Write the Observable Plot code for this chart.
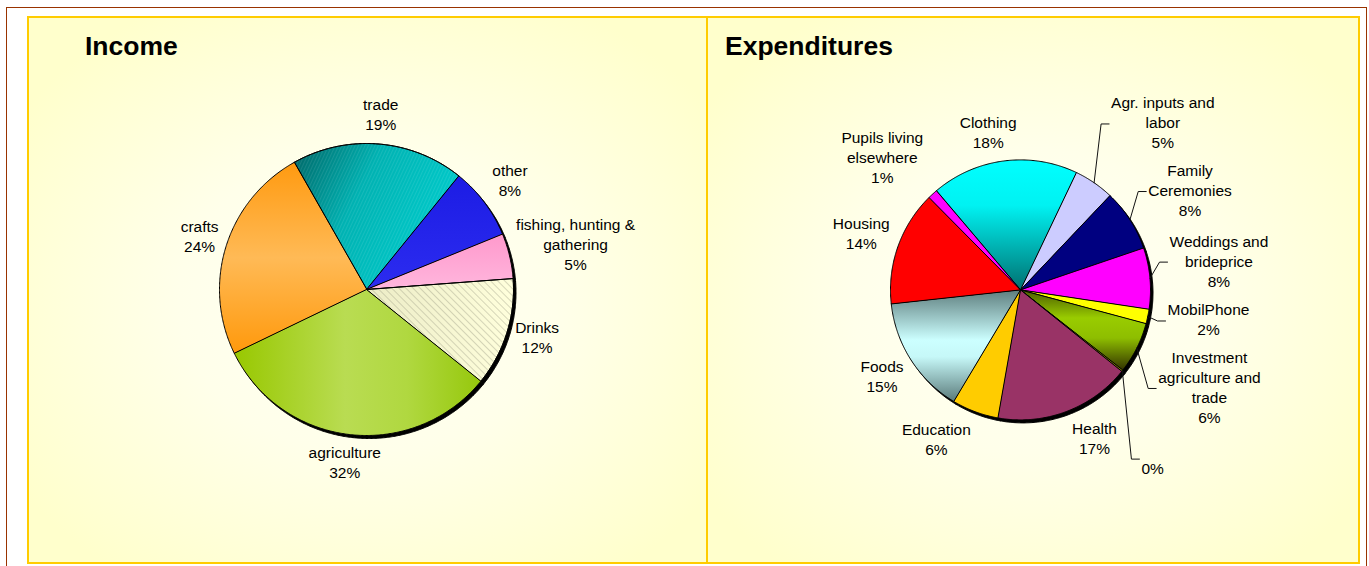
<!DOCTYPE html>
<html>
<head>
<meta charset="utf-8">
<script src="https://cdn.jsdelivr.net/npm/d3@7"></script>
<script src="https://cdn.jsdelivr.net/npm/@observablehq/plot@0.6"></script>
<style>
  html, body { margin: 0; padding: 0; background: #ffffff; overflow: hidden; }
  body { width: 1369px; height: 566px; position: relative; font-family: "Liberation Sans", Arial, sans-serif; }
  .frame { position: absolute; left: 6px; top: 7px; width: 1361px; height: 700px; border: 1.5px solid #993300; box-sizing: border-box; }
  .panel { position: absolute; top: 16px; height: 548px; box-sizing: border-box; border: 2px solid #FFCC00;
           background: radial-gradient(ellipse 62% 62% at 50% 52%, #FFFFF6 0%, #FFFFEA 45%, #FFFFCC 100%); }
  #pIncome { left: 27px; width: 681px; }
  #pExp { left: 706px; width: 654px; }
  .title { position: absolute; top: 31px; font-size: 26.5px; font-weight: bold; line-height: 30px; color: #000; white-space: nowrap; }
  .chart { position: absolute; top: 16px; }
  .chart svg { overflow: visible; }
</style>
</head>
<body>
<div class="frame"></div>
<div class="panel" id="pIncome"></div>
<div class="panel" id="pExp"></div>
<div class="title" style="left:85px">Income</div>
<div class="title" style="left:725px">Expenditures</div>
<div class="chart" id="cIncome" style="left:27px"></div>
<div class="chart" id="cExp" style="left:707px"></div>
<script>
// ---------- data ----------
const incomeCategories = ["trade", "other", "fishing, hunting &\ngathering", "Drinks", "agriculture", "crafts"];
const incomeValues = [19, 8, 5, 12, 32, 24];

const expenditureCategories = ["Clothing", "Agr. inputs and\nlabor", "Family\nCeremonies", "Weddings and\nbrideprice",
  "MobilPhone", "Investment\nagriculture and\ntrade", "", "Health", "Education", "Foods", "Housing", "Pupils living\nelsewhere"];
const expenditureValues = [18.3, 5.0, 7.7, 7.6, 1.8, 6.4, 0.2, 17.0, 5.8, 14.7, 14.3, 1.2];

// ---------- styles / layout ----------
const incomeFills = ["url(#inc-trade)", "url(#inc-other)", "url(#inc-fish)", "url(#inc-drinks)", "url(#inc-agri)", "url(#inc-crafts)"];
const expenditureFills = ["url(#exp-cloth)", "#CCCCFF", "#000080", "#FF00FF", "#FFFF00", "url(#exp-invest)", "#808000",
  "#993366", "#FFCC00", "url(#exp-foods)", "#FF0000", "#FF00FF"];

const incomeLabelPlaces = [
  {da: 0, k: 1.06},
  {da: 0, k: 1.097},
  {da: -0.5, k: 1.06},
  {da: -1, k: 1.06},
  {da: 0, k: 1.06},
  {da: 0, k: 1.06}
];
const expenditureLabelPlaces = [
  {da: -3.65, k: 1.072},
  {leader: true, angle: 28.1, k: 1.447},
  {leader: true, angle: 51.96, k: 1.228},
  {leader: true, angle: 79.3, k: 1.151},
  {leader: true, angle: 102.1, k: 1.141},
  {leader: true, angle: 126.0, k: 1.29},
  {leader: true, angle: 144.9, k: 1.591},
  {da: -5.4, k: 1.126},
  {da: 6.8, k: 1.149},
  {da: 0, k: 1.10},
  {da: 0.5, k: 1.085},
  {da: -2.2, k: 1.195}
];

const FONT_PX = 15.5, LINE_PX = 20, TEXT_DY = -2, FONT_FAMILY = '"Liberation Sans", Arial, sans-serif';

const incomeDefs = `
<defs>
 <linearGradient id="inc-trade" x1="0" y1="0" x2="1" y2="0.45">
  <stop offset="0" stop-color="#006464"/><stop offset="0.45" stop-color="#00B2B2"/><stop offset="1" stop-color="#00CCCC"/>
 </linearGradient>
 <pattern id="inc-stripe" patternUnits="userSpaceOnUse" width="3" height="3" patternTransform="rotate(25)">
  <line x1="0" y1="0" x2="0" y2="3" stroke="rgba(255,255,255,0.18)" stroke-width="1"/>
 </pattern>
 <linearGradient id="inc-other" x1="0" y1="0" x2="0" y2="1">
  <stop offset="0" stop-color="#1C1CE4"/><stop offset="1" stop-color="#2C2CF0"/>
 </linearGradient>
 <linearGradient id="inc-fish" x1="0" y1="0" x2="0" y2="1">
  <stop offset="0" stop-color="#FF99CC"/><stop offset="1" stop-color="#FFB6DD"/>
 </linearGradient>
 <linearGradient id="inc-drinks" x1="0" y1="0" x2="1" y2="0">
  <stop offset="0" stop-color="#ECECC6"/><stop offset="1" stop-color="#FFFFDC"/>
 </linearGradient>
 <pattern id="inc-hatch" patternUnits="userSpaceOnUse" width="5" height="5" patternTransform="rotate(-45)">
  <line x1="0" y1="0" x2="0" y2="5" stroke="#9A9A84" stroke-width="0.8"/>
 </pattern>
 <linearGradient id="inc-agri" x1="0" y1="0" x2="1" y2="0">
  <stop offset="0" stop-color="#98C800"/><stop offset="0.45" stop-color="#B9DC52"/><stop offset="0.7" stop-color="#B0D840"/><stop offset="1" stop-color="#96C80C"/>
 </linearGradient>
 <linearGradient id="inc-crafts" x1="0" y1="0" x2="0" y2="1">
  <stop offset="0" stop-color="#FF9A10"/><stop offset="0.5" stop-color="#FFBA56"/><stop offset="1" stop-color="#FF990C"/>
 </linearGradient>
</defs>`;

const expenditureDefs = `
<defs>
 <linearGradient id="exp-cloth" x1="0" y1="0" x2="0" y2="1">
  <stop offset="0" stop-color="#00FFFF"/><stop offset="0.35" stop-color="#00F2F2"/><stop offset="1" stop-color="#007070"/>
 </linearGradient>
 <linearGradient id="exp-invest" x1="0" y1="0" x2="0" y2="1">
  <stop offset="0" stop-color="#4A5C00"/><stop offset="0.35" stop-color="#99CC00"/><stop offset="0.6" stop-color="#8EBE00"/><stop offset="1" stop-color="#333300"/>
 </linearGradient>
 <linearGradient id="exp-foods" x1="0" y1="0" x2="0" y2="1">
  <stop offset="0" stop-color="#5E7E7E"/><stop offset="0.45" stop-color="#CCFFFF"/><stop offset="0.6" stop-color="#C6F8F8"/><stop offset="1" stop-color="#5A7A7A"/>
 </linearGradient>
</defs>`;

// ---------- helpers ----------
const ctx = document.createElement("canvas").getContext("2d");
function textWidth(str) {
  ctx.font = `${FONT_PX}px "Liberation Sans"`;
  return d3.max(str.split("\n"), l => ctx.measureText(l).width);
}
function pieLayout(cats, vals, start) {
  const total = d3.sum(vals);
  let acc = start;
  return vals.map((v, i) => {
    const a0 = acc, a1 = acc + v / total * 360;
    acc = a1;
    return {i, cat: cats[i], pct: Math.round(v / total * 100), a0, a1, mid: (a0 + a1) / 2};
  });
}
function slicePoints(s) {
  const pts = [{x: 0, y: 0}];
  const n = Math.max(2, Math.ceil((s.a1 - s.a0) * 2));
  for (let j = 0; j <= n; j++) {
    const a = (s.a0 + (s.a1 - s.a0) * j / n) * Math.PI / 180;
    pts.push({x: Math.sin(a), y: Math.cos(a)});
  }
  return pts;
}
function defsMark(markup) {
  return () => {
    const g = document.createElementNS("http://www.w3.org/2000/svg", "g");
    g.innerHTML = markup;
    return g;
  };
}
function placeLabels(slices, places, rx, ry) {
  const labels = [], leaders = [];
  for (const s of slices) {
    const p = places[s.i];
    const label = `${s.cat}\n${s.pct}%`;
    const w = textWidth(label), h = label.split("\n").length * LINE_PX;
    if (p.leader) {
      const A = p.angle * Math.PI / 180, m = s.mid * Math.PI / 180;
      const ax = p.k * Math.sin(A), ay = p.k * Math.cos(A);
      labels.push({label, x: ax + (2 + w / 2) / rx, y: ay});
      leaders.push({key: s.i, x: Math.sin(m), y: Math.cos(m)});
      leaders.push({key: s.i, x: ax - 8 / rx, y: ay});
      leaders.push({key: s.i, x: ax, y: ay});
    } else {
      const a = (s.mid + p.da) * Math.PI / 180;
      labels.push({
        label,
        x: p.k * Math.sin(a) + Math.sin(a) * w / 2 / rx,
        y: p.k * Math.cos(a) + Math.cos(a) * h / 2 / ry
      });
    }
  }
  return {labels, leaders};
}

function pieChart(o) {
  const slices = pieLayout(o.cats, o.vals, o.start);
  const {labels, leaders} = placeLabels(slices, o.places, o.rx, o.ry);
  const marks = [defsMark(o.defs)];
  for (const s of slices) {
    marks.push(Plot.line(slicePoints(s), {x: "x", y: "y", fill: "#000", stroke: "#000", strokeWidth: 1,
      dx: o.shadow[0], dy: o.shadow[1], curve: "linear-closed"}));
  }
  for (const s of slices) {
    marks.push(Plot.line(slicePoints(s), {x: "x", y: "y", fill: o.fills[s.i], stroke: "#000", strokeWidth: 1,
      strokeLinejoin: "round", curve: "linear-closed"}));
    if (o.overlays && o.overlays[s.i]) {
      marks.push(Plot.line(slicePoints(s), {x: "x", y: "y", fill: o.overlays[s.i], stroke: "#000", strokeWidth: 1,
        strokeLinejoin: "round", curve: "linear-closed"}));
    }
  }
  if (leaders.length) {
    marks.push(Plot.line(leaders, {x: "x", y: "y", z: "key", stroke: "#111", strokeWidth: 1}));
  }
  marks.push(Plot.text(labels, {x: "x", y: "y", text: "label", textAnchor: "middle", lineAnchor: "middle", dy: TEXT_DY,
    fontSize: FONT_PX, lineHeight: LINE_PX / FONT_PX, fill: "#000", fontFamily: FONT_FAMILY}));
  return Plot.plot({
    width: o.width, height: o.height, margin: 0,
    x: {domain: [-1, 1], range: [o.cx - o.rx, o.cx + o.rx], axis: null},
    y: {domain: [-1, 1], range: [o.cy + o.ry, o.cy - o.ry], axis: null},
    style: {background: "transparent", overflow: "visible", fontFamily: FONT_FAMILY},
    marks
  });
}

document.getElementById("cIncome").append(pieChart({
  cats: incomeCategories, vals: incomeValues, fills: incomeFills, places: incomeLabelPlaces,
  overlays: {0: "url(#inc-stripe)", 3: "url(#inc-hatch)"},
  defs: incomeDefs, start: -29.5, width: 680, height: 546, cx: 339, cy: 273, rx: 147, ry: 146, shadow: [2.5, 3]
}));
document.getElementById("cExp").append(pieChart({
  cats: expenditureCategories, vals: expenditureValues, fills: expenditureFills, places: expenditureLabelPlaces,
  defs: expenditureDefs, start: -40.4, width: 652, height: 546, cx: 313, cy: 273.4, rx: 130, ry: 130, shadow: [2.5, 3]
}));
</script>
</body>
</html>
